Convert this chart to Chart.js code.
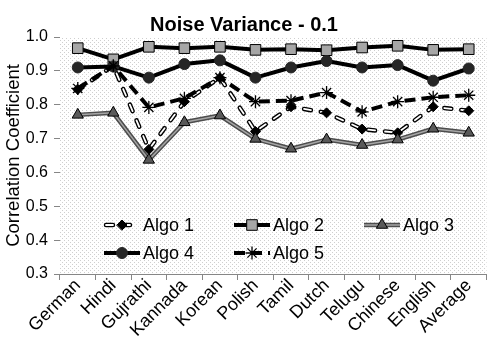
<!DOCTYPE html>
<html>
<head>
<meta charset="utf-8">
<script src="https://cdn.jsdelivr.net/npm/chart.js@4/dist/chart.umd.min.js"></script>
<style>
html,body{margin:0;padding:0;background:#fff;}
#wrap{width:495px;height:357px;}
</style>
</head>
<body>
<div id="wrap"><canvas id="c" width="495" height="357"></canvas></div>
<script>
const categories = ['German','Hindi','Gujrathi','Kannada','Korean','Polish','Tamil','Dutch','Telugu','Chinese','English','Average'];
const seriesNames = ['Algo 1','Algo 2','Algo 3','Algo 4','Algo 5'];
const algo1 = [0.845, 0.915, 0.668, 0.809, 0.880, 0.721, 0.794, 0.776, 0.728, 0.717, 0.794, 0.782];
const algo2 = [0.967, 0.934, 0.971, 0.967, 0.971, 0.962, 0.964, 0.961, 0.969, 0.974, 0.962, 0.964];
const algo3 = [0.770, 0.776, 0.637, 0.748, 0.768, 0.699, 0.670, 0.697, 0.681, 0.697, 0.729, 0.717];
const algo4 = [0.910, 0.913, 0.880, 0.920, 0.931, 0.880, 0.910, 0.929, 0.910, 0.917, 0.871, 0.907];
const algo5 = [0.848, 0.915, 0.792, 0.819, 0.880, 0.809, 0.812, 0.836, 0.779, 0.809, 0.822, 0.828];
const yTickLabels = ['0.3','0.4','0.5','0.6','0.7','0.8','0.9','1.0'];
const chartTitle = 'Noise Variance - 0.1';
const yTitle = 'Correlation Coefficient';

// background pattern
const tile = document.createElement('canvas');
tile.width = 4; tile.height = 4;
const tctx = tile.getContext('2d');
tctx.fillStyle = '#ffffff'; tctx.fillRect(0,0,4,4);
tctx.fillStyle = '#cfcfcf'; tctx.fillRect(0,0,1,1); tctx.fillRect(2,2,1,1);

const bgPlugin = {
  id: 'bgPattern',
  beforeDatasetsDraw(chart) {
    const {ctx, chartArea: a} = chart;
    ctx.save();
    ctx.fillStyle = ctx.createPattern(tile, 'repeat');
    ctx.fillRect(a.left, a.top, a.right - a.left, a.bottom - a.top);
    ctx.restore();
  }
};

const legendItems = [
  {name: seriesNames[0], x: 104, y: 225, kind: 1},
  {name: seriesNames[1], x: 234, y: 225, kind: 2},
  {name: seriesNames[2], x: 364, y: 225, kind: 3},
  {name: seriesNames[3], x: 104, y: 253, kind: 4},
  {name: seriesNames[4], x: 234, y: 253, kind: 5}
];

const legendPlugin = {
  id: 'customLegend',
  afterDatasetsDraw(chart) {
    const ctx = chart.ctx;
    const dp = Chart.helpers.drawPoint;
    ctx.save();
    legendItems.forEach(it => {
      const x0 = it.x, x1 = it.x + 36, y = it.y, xm = it.x + 18;
      ctx.setLineDash([]);
      ctx.lineCap = 'butt';
      if (it.kind === 1) {
        ctx.lineCap = 'round';
        ctx.setLineDash([7, 10]);
        ctx.strokeStyle = '#000'; ctx.lineWidth = 4.5;
        ctx.beginPath(); ctx.moveTo(x0+2, y); ctx.lineTo(x1, y); ctx.stroke();
        ctx.strokeStyle = '#fff'; ctx.lineWidth = 1.8;
        ctx.beginPath(); ctx.moveTo(x0+2, y); ctx.lineTo(x1, y); ctx.stroke();
        ctx.setLineDash([]);
        ctx.fillStyle = '#000'; ctx.strokeStyle = '#000'; ctx.lineWidth = 1;
        dp(ctx, {pointStyle: 'rectRot', radius: 5, rotation: 0, borderWidth: 1}, xm, y);
      } else if (it.kind === 2) {
        ctx.strokeStyle = '#000'; ctx.lineWidth = 4;
        ctx.beginPath(); ctx.moveTo(x0, y); ctx.lineTo(x1, y); ctx.stroke();
        ctx.fillStyle = '#a6a6a6'; ctx.strokeStyle = '#000'; ctx.lineWidth = 1;
        dp(ctx, {pointStyle: 'rect', radius: 7.5, rotation: 0, borderWidth: 1}, xm, y);
      } else if (it.kind === 3) {
        ctx.strokeStyle = '#4d4d4d'; ctx.lineWidth = 4.5;
        ctx.beginPath(); ctx.moveTo(x0, y); ctx.lineTo(x1, y); ctx.stroke();
        ctx.strokeStyle = '#a6a6a6'; ctx.lineWidth = 1.5;
        ctx.beginPath(); ctx.moveTo(x0, y); ctx.lineTo(x1, y); ctx.stroke();
        ctx.fillStyle = '#595959'; ctx.strokeStyle = '#000'; ctx.lineWidth = 1;
        dp(ctx, {pointStyle: 'triangle', radius: 6.5, rotation: 0, borderWidth: 1}, xm, y);
      } else if (it.kind === 4) {
        ctx.strokeStyle = '#000'; ctx.lineWidth = 4;
        ctx.beginPath(); ctx.moveTo(x0, y); ctx.lineTo(x1, y); ctx.stroke();
        ctx.fillStyle = '#262626'; ctx.strokeStyle = '#262626'; ctx.lineWidth = 1;
        dp(ctx, {pointStyle: 'circle', radius: 5.5, rotation: 0, borderWidth: 1}, xm, y);
      } else if (it.kind === 5) {
        ctx.setLineDash([11, 6]);
        ctx.strokeStyle = '#000'; ctx.lineWidth = 4;
        ctx.beginPath(); ctx.moveTo(x0, y); ctx.lineTo(x1, y); ctx.stroke();
        ctx.setLineDash([]);
        ctx.fillStyle = '#000'; ctx.strokeStyle = '#000'; ctx.lineWidth = 1.3;
        dp(ctx, {pointStyle: 'star', radius: 6.5, rotation: 0, borderWidth: 1.3}, xm, y);
      }
      ctx.fillStyle = '#000';
      ctx.font = '18px "Liberation Sans", Arial, sans-serif';
      ctx.textBaseline = 'middle';
      ctx.textAlign = 'left';
      ctx.fillText(it.name, x0 + 39, y + 1);
    });
    ctx.restore();
  }
};

const ds = [
  {label: seriesNames[4], data: algo5, order: 1, borderColor: '#000', borderWidth: 4, borderDash: [11, 6],
   pointStyle: 'star', pointRadius: 6.5, pointBorderColor: '#000', pointBackgroundColor: '#000', pointBorderWidth: 1.3},
  {label: seriesNames[3], data: algo4, order: 2, borderColor: '#000', borderWidth: 4,
   pointStyle: 'circle', pointRadius: 5.5, pointBorderColor: '#262626', pointBackgroundColor: '#262626', pointBorderWidth: 1},
  {label: seriesNames[2], data: algo3, order: 3, borderColor: '#a6a6a6', borderWidth: 1.5,
   pointStyle: 'triangle', pointRadius: 6.5, pointBorderColor: '#000', pointBackgroundColor: '#595959', pointBorderWidth: 1},
  {label: seriesNames[2] + ' outline', data: algo3, order: 4, borderColor: '#4d4d4d', borderWidth: 4.5, pointRadius: 0},
  {label: seriesNames[1], data: algo2, order: 5, borderColor: '#000', borderWidth: 4,
   pointStyle: 'rect', pointRadius: 7.5, pointBorderColor: '#000', pointBackgroundColor: '#a6a6a6', pointBorderWidth: 1},
  {label: seriesNames[0], data: algo1, order: 6, showLine: false,
   pointStyle: 'rectRot', pointRadius: 5, pointBorderColor: '#000', pointBackgroundColor: '#000', pointBorderWidth: 1},
  {label: seriesNames[0] + ' inner', data: algo1, order: 7, borderColor: '#fff', borderWidth: 1.8, borderDash: [7, 10],
   borderCapStyle: 'round', pointRadius: 0},
  {label: seriesNames[0] + ' outline', data: algo1, order: 8, borderColor: '#000', borderWidth: 4.5, borderDash: [7, 10],
   borderCapStyle: 'round', pointRadius: 0}
];

new Chart(document.getElementById('c'), {
  type: 'line',
  data: {labels: categories, datasets: ds.map(d => Object.assign({fill: false, tension: 0, borderJoinStyle: 'round'}, d))},
  options: {
    responsive: false,
    animation: false,
    events: [],
    layout: {padding: {left: 0, right: 7, top: 0, bottom: 0}},
    plugins: {
      legend: {display: false},
      tooltip: {enabled: false},
      title: {
        display: true, text: chartTitle, color: '#000',
        font: {family: '"Liberation Sans", Arial, sans-serif', size: 20, weight: 'bold', lineHeight: 1.2},
        padding: {top: 13, bottom: 0}
      }
    },
    scales: {
      x: {
        type: 'category', offset: true,
        grid: {display: true, drawOnChartArea: false, drawTicks: true, tickLength: 6, color: '#868686', offset: true},
        border: {display: true, color: '#868686', width: 1},
        ticks: {color: '#000', font: {family: '"Liberation Sans", Arial, sans-serif', size: 18}, minRotation: 45, maxRotation: 45, padding: -5, autoSkip: false},
        afterFit(s) { s.height = 83; }
      },
      y: {
        min: 0.3, max: 1.0,
        grid: {display: true, drawOnChartArea: false, drawTicks: true, tickLength: 6, color: '#868686'},
        border: {display: true, color: '#868686', width: 1},
        ticks: {stepSize: 0.1, color: '#000', font: {family: '"Liberation Sans", Arial, sans-serif', size: 16}, padding: 6,
          callback: (v, i) => yTickLabels[i]},
        title: {display: true, text: yTitle, color: '#000', font: {family: '"Liberation Sans", Arial, sans-serif', size: 18.5}, padding: {top: 3, bottom: 0}},
        afterFit(s) { s.width = 60; }
      }
    }
  },
  plugins: [bgPlugin, legendPlugin]
});
</script>
</body>
</html>
